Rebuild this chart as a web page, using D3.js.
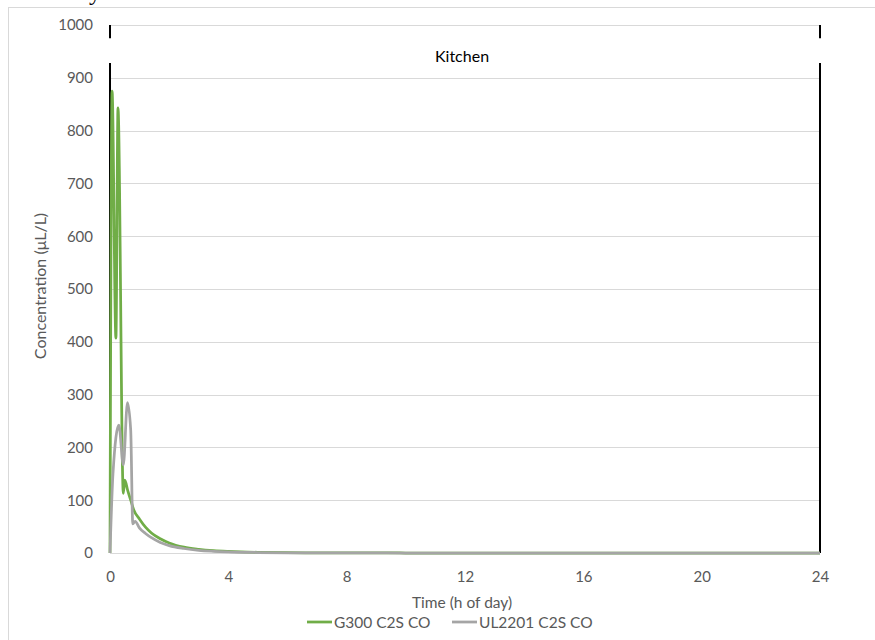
<!DOCTYPE html>
<html>
<head>
<meta charset="utf-8">
<script src="https://cdn.jsdelivr.net/npm/d3@7"></script>
<style>
    body { margin: 0; background: #ffffff; }
    svg { display: block; font-family: Lato, "Open Sans", "Liberation Sans", sans-serif; }
</style>
</head>
<body>
<div id="chart"></div>
<script>

// time (h) and concentration (µL/L)
const g300Time = [0, 0.07, 0.2, 0.27, 0.45, 0.5, 0.6, 0.7, 0.8, 1.0, 1.2, 1.4, 1.7, 2.0, 2.5, 3.0, 3.5, 4, 5, 6, 8, 10, 12, 16, 20, 24];
const g300CO = [0, 875, 407, 843, 113, 138, 118, 100, 82, 64, 49, 38, 27, 19, 11, 7, 4.5, 3, 1.3, 0.6, 0.2, 0, 0, 0, 0, 0];

const ul2201Time = [0, 0.1, 0.3, 0.45, 0.59, 0.7, 0.77, 0.85, 1.0, 1.2, 1.4, 1.7, 2.0, 2.5, 3.0, 3.5, 4, 5, 6, 8, 10, 12, 16, 20, 24];
const ul2201CO = [0, 150, 242, 167, 285, 233, 55, 60, 47, 37, 29, 20, 14, 8.5, 5, 3.2, 2, 0.9, 0.4, 0.1, 0, 0, 0, 0, 0];

const xTicks = [0, 4, 8, 12, 16, 20, 24];
const yTicks = [0, 100, 200, 300, 400, 500, 600, 700, 800, 900, 1000];

// vertical marker lines for the "Kitchen" period, broken around the label
const markerTimes = [0, 24];
const markerSpans = [[0, 928], [975, 1000]];
const periodLabel = "Kitchen";

const seriesList = [
    { name: "G300 C2S CO", time: g300Time, values: g300CO, color: "#70ad47" },
    { name: "UL2201 C2S CO", time: ul2201Time, values: ul2201CO, color: "#a5a5a5" }
];

let width = 875, height = 640;
let margin = { left: 110, right: 55, top: 25, bottom: 87 };

let svg = d3.select("#chart").append("svg")
    .attr("width", width)
    .attr("height", height);

// chart frame
svg.append("rect")
    .attr("x", 8.5).attr("y", 7.5)
    .attr("width", 900).attr("height", 700)
    .attr("fill", "none")
    .attr("stroke", "#d9d9d9");

// descender of text cut off above the picture
svg.append("text")
    .attr("x", 89).attr("y", 0)
    .attr("font-family", "'Liberation Serif', serif")
    .attr("font-size", 24)
    .attr("fill", "#000")
    .text("y");

let x = d3.scaleLinear().domain([0, 24]).range([margin.left, width - margin.right]);
let y = d3.scaleLinear().domain([0, 1000]).range([height - margin.bottom, margin.top]);

// gridlines
svg.append("g")
    .selectAll("line")
    .data(yTicks)
    .join("line")
    .attr("x1", x(0)).attr("x2", x(24))
    .attr("y1", d => Math.round(y(d)) + 0.5)
    .attr("y2", d => Math.round(y(d)) + 0.5)
    .attr("stroke", "#d9d9d9")
    .attr("stroke-width", 1);

// y tick labels
let yAxis = svg.append("g")
    .attr("transform", `translate(${x(0) - 17},0)`)
    .call(d3.axisLeft(y).tickValues(yTicks).tickFormat(d3.format("d")).tickSize(0).tickPadding(0));
yAxis.select(".domain").remove();
yAxis.selectAll("text")
    .attr("font-size", 15)
    .attr("fill", "#595959")
    .attr("font-family", "Lato, 'Open Sans', sans-serif");

// x tick labels
let xAxis = svg.append("g")
    .attr("transform", `translate(0,${y(0) + 18})`)
    .call(d3.axisBottom(x).tickValues(xTicks).tickFormat(d3.format("d")).tickSize(0).tickPadding(0));
xAxis.select(".domain").remove();
xAxis.selectAll("text")
    .attr("font-size", 15)
    .attr("fill", "#595959")
    .attr("font-family", "Lato, 'Open Sans', sans-serif");

// marker lines
markerTimes.forEach(t => {
    svg.append("g")
        .selectAll("line")
        .data(markerSpans)
        .join("line")
        .attr("x1", x(t)).attr("x2", x(t))
        .attr("y1", d => y(d[0]))
        .attr("y2", d => y(d[1]))
        .attr("stroke", "#000")
        .attr("stroke-width", 2);
});

svg.append("text")
    .attr("x", x(11.9))
    .attr("y", 62)
    .attr("text-anchor", "middle")
    .attr("font-size", 16)
    .attr("fill", "#000")
    .text(periodLabel);

// series lines
let line = d3.line()
    .x(d => x(d[0]))
    .y(d => y(d[1]))
    .curve(d3.curveMonotoneX);

svg.append("g")
    .selectAll("path")
    .data(seriesList)
    .join("path")
    .attr("d", s => line(s.time.map((t, i) => [t, s.values[i]])))
    .attr("fill", "none")
    .attr("stroke", s => s.color)
    .attr("stroke-width", 2.75)
    .attr("stroke-linejoin", "round");

// axis titles
svg.append("text")
    .attr("x", x(11.9))
    .attr("y", 608)
    .attr("text-anchor", "middle")
    .attr("font-size", 15.5)
    .attr("fill", "#595959")
    .text("Time (h of day)");

svg.append("text")
    .attr("transform", "translate(46,286) rotate(-90)")
    .attr("text-anchor", "middle")
    .attr("font-size", 16)
    .attr("fill", "#595959")
    .text("Concentration (μL/L)");

// legend
let legendX = [307, 452];
let legend = svg.append("g")
    .selectAll("g")
    .data(seriesList)
    .join("g")
    .attr("transform", (d, i) => `translate(${legendX[i]},622)`);

legend.append("line")
    .attr("x1", 0).attr("x2", 25)
    .attr("stroke", d => d.color)
    .attr("stroke-width", 2.75);

legend.append("text")
    .attr("x", 27)
    .attr("y", 5.5)
    .attr("font-size", 15.5)
    .attr("fill", "#595959")
    .text(d => d.name);

</script>
</body>
</html>
